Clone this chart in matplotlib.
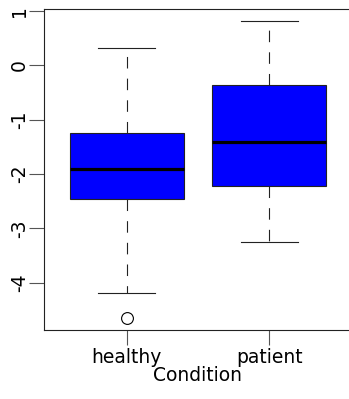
import matplotlib
matplotlib.use('Agg')
import matplotlib.pyplot as plt

# box stats
conditions = ['healthy', 'patient']
whisk_low = [-4.18, -3.25]
q1 = [-2.46, -2.21]
medians = [-1.90, -1.40]
q3 = [-1.235, -0.36]
whisk_high = [0.32, 0.81]
outliers = [[-4.64], []]

y_ticks = [-4, -3, -2, -1, 0, 1]

plt.rcParams['font.family'] = ['DejaVu Sans']
plt.rcParams['lines.scale_dashes'] = False

fig = plt.figure(figsize=(3.49, 3.99), dpi=100)
# right edge of the frame falls just outside the image, as in the original
ax = fig.add_axes([44 / 349, 1 - 330 / 399, 308 / 349, 321 / 399])

stats = []
for i in range(len(conditions)):
    stats.append({'label': conditions[i], 'whislo': whisk_low[i], 'q1': q1[i],
                  'med': medians[i], 'q3': q3[i], 'whishi': whisk_high[i],
                  'fliers': outliers[i]})

edge = '#222222'
ax.bxp(stats, positions=[1, 2], widths=0.8, patch_artist=True,
       boxprops=dict(facecolor='#0000ff', edgecolor=edge, linewidth=0.8),
       medianprops=dict(color='black', linewidth=2.3, solid_capstyle='butt'),
       whiskerprops=dict(color=edge, linewidth=0.8, linestyle=(0, (8.3, 7.3))),
       capprops=dict(color=edge, linewidth=0.8),
       capwidths=0.4,
       flierprops=dict(marker='o', markersize=8.5, markerfacecolor='none',
                       markeredgecolor='black', markeredgewidth=0.8))

ax.set_xlim(0.42, 2.58)
ax.set_ylim(-4.87, 1.04)
ax.set_yticks(y_ticks)
ax.set_yticklabels([str(t) for t in y_ticks], rotation=90, va='center')
ax.set_xticks([1, 2])
ax.set_xticklabels(conditions)
ax.tick_params(axis='both', length=11, width=0.8, color='#555555', labelsize=13.5, pad=2)
ax.tick_params(axis='y', pad=0)
ax.set_xlabel('Condition', fontsize=13.5, labelpad=-1)
for s in ax.spines.values():
    s.set_linewidth(0.8)
    s.set_color(edge)

fig.savefig('out.png', dpi=100)
